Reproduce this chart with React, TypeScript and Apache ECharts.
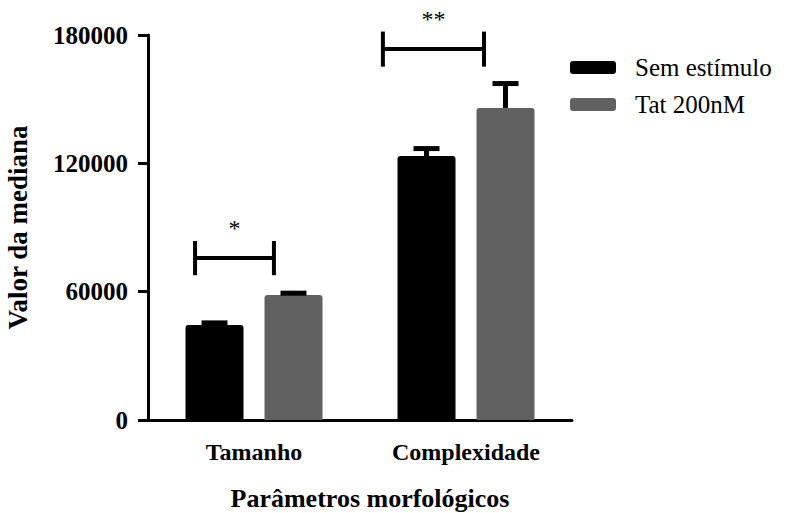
import React, { useEffect, useRef } from "react";
import * as echarts from "echarts";

const categories = ["Tamanho", "Complexidade"];
const seriesNames = ["Sem estímulo", "Tat 200nM"];
const semEstimulo = [44400, 123400];
const semEstimuloErr = [1000, 3500];
const tat = [58400, 145900];
const tatErr = [900, 11400];
const yMax = 180000;
const yInterval = 60000;

// significance brackets: category index, line value, half-height of end ticks,
// start/end (fraction of category band from its centre), label
const bracketCat = [0, 1];
const bracketY = [75700, 173400];
const bracketHalf = [8000, 8200];
const bracketStart = [-0.278, -0.392];
const bracketEnd = [0.094, 0.085];
const bracketLabel = ["*", "**"];

const FONT = "'Liberation Serif', 'Times New Roman', serif";
const BAR_W = 58;
const BAR_GAP_PX = 21;
const COLORS = ["#000000", "#616161"];

export default function App() {
  const ref = useRef<HTMLDivElement>(null);
  useEffect(() => {
    if (!ref.current) return;
    const chart = echarts.init(ref.current, undefined, { renderer: "svg" });

    const errSeries = (vals: number[], errs: number[], side: number) => ({
      type: "custom",
      silent: true,
      clip: false,
      z: 5,
      data: vals.map((v, i) => [i, v, v + errs[i]]),
      renderItem: (params: any, api: any) => {
        const base = api.coord([api.value(0), api.value(1)]);
        const top = api.coord([api.value(0), api.value(2)]);
        const x = base[0] + side * (BAR_W + BAR_GAP_PX) / 2;
        return {
          type: "group",
          children: [
            { type: "line", shape: { x1: x, y1: base[1], x2: x, y2: top[1] }, style: { stroke: "#000", lineWidth: 5 } },
            { type: "line", shape: { x1: x - 13, y1: top[1], x2: x + 13, y2: top[1] }, style: { stroke: "#000", lineWidth: 5 } },
          ],
        };
      },
    });

    chart.setOption({
      animation: false,
      grid: { left: 148, right: 215, top: 35, bottom: 93, containLabel: false, outerBoundsMode: "none" },
      legend: {
        orient: "vertical",
        left: 565,
        top: 50,
        itemWidth: 46,
        itemHeight: 13,
        itemGap: 12,
        icon: "roundRect",
        data: seriesNames,
        textStyle: { fontFamily: FONT, fontSize: 25, color: "#000", padding: [0, 0, 0, 14] },
      },
      xAxis: {
        type: "category",
        data: categories,
        name: "Parâmetros morfológicos",
        nameLocation: "middle",
        nameGap: 65,
        nameTextStyle: { fontFamily: FONT, fontSize: 26, fontWeight: "bold", color: "#000", padding: [0, 0, 0, 20] },
        axisLine: { lineStyle: { color: "#000", width: 3 } },
        axisTick: { alignWithLabel: true, length: 10, lineStyle: { color: "#000", width: 3 } },
        axisLabel: { fontFamily: FONT, fontSize: 24, fontWeight: "bold", color: "#000", margin: 20 },
      },
      yAxis: {
        type: "value",
        min: 0,
        max: yMax,
        interval: yInterval,
        name: "Valor da mediana",
        nameLocation: "middle",
        nameGap: 117,
        nameTextStyle: { fontFamily: FONT, fontSize: 27, fontWeight: "bold", color: "#000" },
        splitLine: { show: false },
        axisLine: { show: true, lineStyle: { color: "#000", width: 3 } },
        axisTick: { show: true, length: 10, lineStyle: { color: "#000", width: 3 } },
        axisLabel: { fontFamily: FONT, fontSize: 25, fontWeight: "bold", color: "#000", margin: 20, formatter: (v: number) => String(v) },
      },
      series: [
        { name: seriesNames[0], type: "bar", data: semEstimulo, barWidth: BAR_W, barGap: `${(BAR_GAP_PX / BAR_W) * 100}%`, itemStyle: { color: COLORS[0], borderRadius: [3, 3, 0, 0] } },
        { name: seriesNames[1], type: "bar", data: tat, barWidth: BAR_W, itemStyle: { color: COLORS[1], borderRadius: [3, 3, 0, 0] } },
        errSeries(semEstimulo, semEstimuloErr, -1),
        errSeries(tat, tatErr, 1),
        {
          type: "custom",
          silent: true,
          clip: false,
          z: 5,
          data: bracketCat.map((c, i) => [c, bracketY[i], bracketHalf[i], bracketStart[i], bracketEnd[i]]),
          renderItem: (params: any, api: any) => {
            const i = params.dataIndex;
            const c = api.coord([api.value(0), api.value(1)]);
            const hiY = api.coord([api.value(0), api.value(1) + api.value(2)])[1];
            const loY = api.coord([api.value(0), api.value(1) - api.value(2)])[1];
            const band = api.size([1, 0])[0];
            const x1 = c[0] + api.value(3) * band;
            const x2 = c[0] + api.value(4) * band;
            const st = { stroke: "#000", lineWidth: 4 };
            return {
              type: "group",
              children: [
                { type: "line", shape: { x1, y1: c[1], x2, y2: c[1] }, style: st },
                { type: "line", shape: { x1, y1: hiY, x2: x1, y2: loY }, style: st },
                { type: "line", shape: { x1: x2, y1: hiY, x2, y2: loY }, style: st },
                { type: "text", style: { text: bracketLabel[i], x: (x1 + x2) / 2, y: c[1] - 30, align: "center", verticalAlign: "middle", fontFamily: FONT, fontSize: 24, fill: "#000" } },
              ],
            };
          },
        },
      ],
    });
    return () => chart.dispose();
  }, []);
  return <div ref={ref} style={{ width: 787, height: 513, position: "absolute", left: 0, top: 0 }} />;
}
